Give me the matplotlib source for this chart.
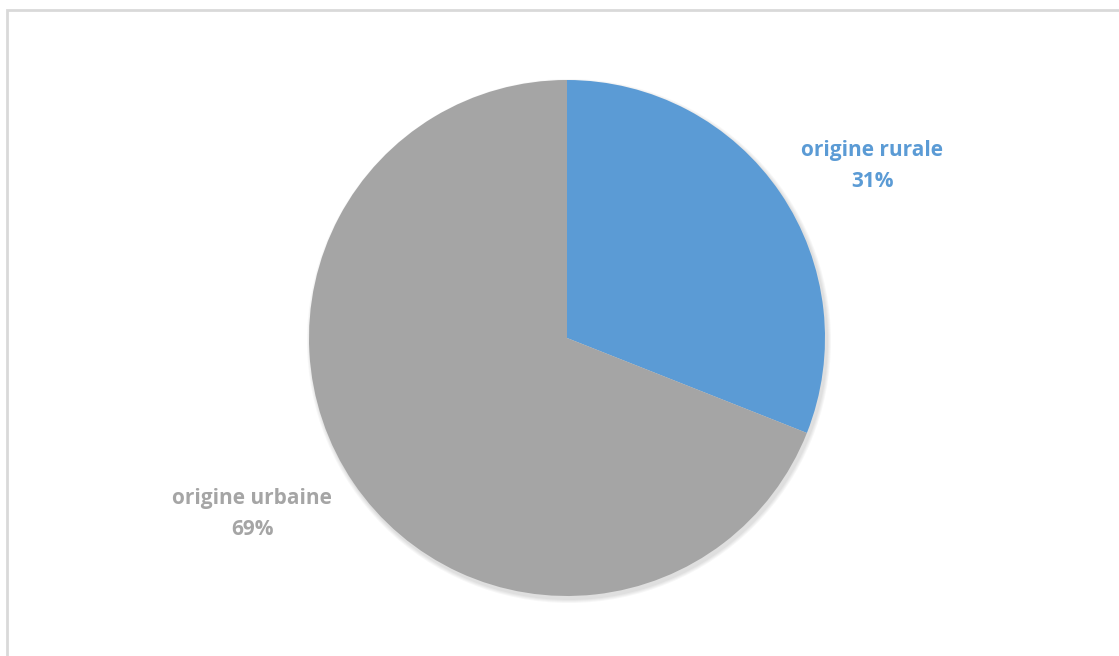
import matplotlib.pyplot as plt
from matplotlib.patches import Rectangle, Circle

labels = ['origine rurale', 'origine urbaine']
shares = [31, 69]
colors = ['#5B9BD5', '#A5A5A5']

W, H = 1119, 656
fig = plt.figure(figsize=(W / 100, H / 100), dpi=100)
ax = fig.add_axes([0, 0, 1, 1])
ax.set_xlim(0, W)
ax.set_ylim(0, H)
ax.set_aspect('equal')
ax.axis('off')

# chart area frame
ax.add_patch(Rectangle((7, -5), W, H - 10 + 5, fill=False, edgecolor='#D9D9D9', lw=2))

cx, cy, r = 567, H - 338, 258

# soft drop shadow under the pie
for i, a in enumerate([0.03, 0.03, 0.03, 0.03]):
    ax.add_patch(Circle((cx + 2, cy - 3), r + 4 - i, color='black', alpha=a, lw=0))

ax.pie(shares, colors=colors, startangle=90, counterclock=False,
       center=(cx, cy), radius=r, frame=True,
       wedgeprops=dict(linewidth=0))
ax.set_xlim(0, W)
ax.set_ylim(0, H)
ax.axis('off')

pos = [(872, H - 166), (252, H - 514)]
for lab, s, c, (x, y) in zip(labels, shares, colors, pos):
    ax.text(x, y, f'{lab}\n{s}%', color=c, ha='center', va='center',
            fontsize=15, fontweight='bold', family='Open Sans', linespacing=1.6)

fig.savefig('out.png', dpi=100)
